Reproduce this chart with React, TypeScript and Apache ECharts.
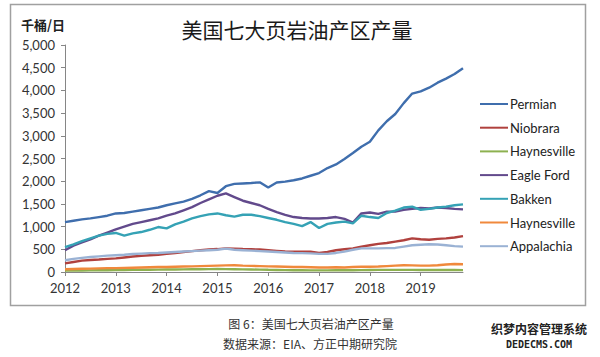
import React, { useEffect, useRef } from "react";
import * as echarts from "echarts";

const months: string[] = [];
for (let y = 2012; y <= 2019; y++) {
  for (const m of ["01", "03", "05", "07", "09", "11"]) months.push(`${y}-${m}`);
}

const yTicks = [0, 500, 1000, 1500, 2000, 2500, 3000, 3500, 4000, 4500, 5000];

const permian = [
  1100, 1130, 1160, 1180, 1210, 1240,
  1290, 1300, 1330, 1360, 1390, 1420,
  1470, 1510, 1550, 1610, 1690, 1780,
  1740, 1890, 1940, 1950, 1960, 1975,
  1860, 1970, 1990, 2020, 2060, 2120,
  2180, 2290, 2370, 2490, 2620, 2760,
  2870, 3120, 3320, 3480, 3720, 3930,
  3980, 4060, 4170, 4260, 4360, 4490,
];
const niobrara = [
  190, 220, 250, 265, 275, 290,
  300, 320, 340, 355, 370, 380,
  400, 420, 440, 460, 480, 495,
  505, 520, 515, 505, 500, 495,
  480, 465, 450, 445, 445, 445,
  420, 440, 480, 500, 520, 560,
  590, 620, 640, 670, 700, 740,
  720, 710, 730, 740, 760, 790,
];
const haynesvilleA = [
  30, 32, 34, 36, 38, 40,
  42, 44, 46, 48, 50, 52,
  54, 56, 58, 60, 62, 64,
  66, 64, 62, 58, 55, 52,
  48, 45, 42, 40, 38, 36,
  36, 36, 38, 38, 40, 42,
  44, 46, 46, 46, 46, 46,
  45, 45, 44, 44, 43, 42,
];
const eagleFord = [
  480, 580, 650, 720, 800, 870,
  940, 1000, 1060, 1100, 1140, 1180,
  1240, 1290, 1360, 1430, 1520, 1600,
  1680, 1730, 1650, 1570, 1520, 1470,
  1390, 1320, 1260, 1210, 1190, 1180,
  1180, 1190, 1210, 1170, 1090, 1290,
  1310, 1280, 1330, 1330, 1370, 1390,
  1410, 1400, 1420, 1410, 1390, 1380,
];
const bakken = [
  550, 610, 680, 740, 800, 840,
  860, 800, 850, 880, 930, 990,
  960, 1050, 1110, 1180, 1230, 1270,
  1290, 1250, 1220, 1260, 1260, 1230,
  1190, 1150, 1100, 1060, 1010, 1100,
  970, 1060, 1090, 1110, 1070, 1240,
  1210, 1190, 1300, 1350, 1420, 1440,
  1370, 1390, 1420, 1440, 1470, 1490,
];
const haynesvilleB = [
  60, 65, 70, 75, 80, 85,
  85, 90, 95, 100, 105, 110,
  110, 115, 120, 125, 130, 135,
  140, 145, 150, 140, 135, 130,
  125, 120, 115, 110, 110, 105,
  100, 100, 105, 100, 110, 115,
  115, 120, 130, 140, 150, 145,
  140, 140, 150, 165, 175, 170,
];
const appalachia = [
  260, 290, 310, 330, 345, 360,
  370, 380, 395, 405, 415, 420,
  430, 440, 450, 460, 470, 480,
  490, 515, 490, 480, 470, 460,
  450, 440, 430, 420, 415, 410,
  400, 400, 420, 450, 490, 520,
  520, 520, 525, 530, 560, 590,
  600, 610, 605, 590, 570, 560,
];

const seriesDefs = [
  { id: "Permian", label: "Permian", data: permian, color: "#3F6EAD" },
  { id: "Niobrara", label: "Niobrara", data: niobrara, color: "#B0413E" },
  { id: "Haynesville_1", label: "Haynesville", data: haynesvilleA, color: "#8DB150" },
  { id: "Eagle Ford", label: "Eagle Ford", data: eagleFord, color: "#624A8C" },
  { id: "Bakken", label: "Bakken", data: bakken, color: "#35A2B5" },
  { id: "Haynesville_2", label: "Haynesville", data: haynesvilleB, color: "#F0893C" },
  { id: "Appalachia", label: "Appalachia", data: appalachia, color: "#9AB2D4" },
];

const labelMap: Record<string, string> = {};
seriesDefs.forEach((s) => (labelMap[s.id] = s.label));

const FONT = "Lato, 'Noto Sans', sans-serif";
const CJK = "'Noto Sans CJK SC', sans-serif";

export default function App() {
  const ref = useRef<HTMLDivElement>(null);
  useEffect(() => {
    if (!ref.current) return;
    const chart = echarts.init(ref.current, undefined, { renderer: "svg" });
    chart.setOption({
      animation: false,
      backgroundColor: "#ffffff",
      grid: { left: 65, right: 137, top: 45, bottom: 85, containLabel: false },
      xAxis: {
        type: "category",
        data: months,
        boundaryGap: false,
        axisLine: { show: true, lineStyle: { color: "#868686", width: 1 } },
        axisTick: {
          show: true,
          length: 4,
          interval: (i: number, v: string) => v.endsWith("-01"),
          lineStyle: { color: "#868686" },
        },
        axisLabel: {
          interval: (i: number, v: string) => v.endsWith("-01"),
          formatter: (v: string) => v.slice(0, 4),
          color: "#333",
          fontSize: 13,
          fontFamily: FONT,
          margin: 9,
        },
        splitLine: { show: false },
      },
      yAxis: {
        type: "value",
        min: yTicks[0],
        max: yTicks[yTicks.length - 1],
        interval: 500,
        axisLine: { show: true, lineStyle: { color: "#868686", width: 1 } },
        axisTick: { show: true, length: 4, lineStyle: { color: "#868686" } },
        axisLabel: {
          color: "#333",
          fontSize: 13,
          fontFamily: FONT,
          margin: 10,
          formatter: (v: number) => v.toLocaleString("en-US"),
        },
        splitLine: { show: false },
      },
      legend: {
        orient: "vertical",
        left: 475,
        top: 92,
        itemWidth: 28,
        itemHeight: 14,
        itemGap: 9.7,
        icon: "path://M0,6 L28,6 L28,8 L0,8 Z",
        formatter: (name: string) => labelMap[name] ?? name,
        textStyle: { color: "#222", fontSize: 13, fontFamily: FONT, padding: [0, 0, 0, -3], lineHeight: 14 },
        data: seriesDefs.map((s) => s.id),
      },
      series: seriesDefs.map((s) => ({
        name: s.id,
        type: "line",
        data: s.data,
        symbol: "none",
        smooth: false,
        lineStyle: { color: s.color, width: 2.4 },
        itemStyle: { color: s.color },
      })),
      graphic: [
        {
          type: "rect",
          shape: { x: 10.5, y: 4.5, width: 575, height: 301 },
          style: { fill: "none", stroke: "#a0a0a0", lineWidth: 1.5 },
          silent: true,
        },
        {
          type: "text",
          x: 21,
          y: 18,
          style: { text: "千桶/日", fill: "#222", font: `bold 13px ${CJK}` },
        },
        {
          type: "text",
          x: 297,
          y: 29,
          style: {
            text: "美国七大页岩油产区产量",
            fill: "#1a1a1a",
            font: `21px ${CJK}`,
            align: "center",
            verticalAlign: "middle",
          },
        },
        {
          type: "text",
          x: 311,
          y: 323,
          style: {
            text: "图 6：美国七大页岩油产区产量",
            fill: "#333",
            font: `12px ${CJK}`,
            align: "center",
            verticalAlign: "middle",
          },
        },
        {
          type: "text",
          x: 310,
          y: 343,
          style: {
            text: "数据来源：EIA、方正中期研究院",
            fill: "#333",
            font: `12px ${CJK}`,
            align: "center",
            verticalAlign: "middle",
          },
        },
        {
          type: "text",
          x: 539,
          y: 328,
          style: {
            text: "织梦内容管理系统",
            fill: "#222",
            font: `bold 12px ${CJK}`,
            align: "center",
            verticalAlign: "middle",
            lineHeight: 12,
          },
        },
        {
          type: "text",
          x: 539,
          y: 344,
          style: {
            text: "DEDECMS.COM",
            fill: "#222",
            font: `bold 10px 'DejaVu Sans Mono', monospace`,
            align: "center",
            verticalAlign: "middle",
            lineHeight: 10,
          },
        },
      ],
    });
    return () => chart.dispose();
  }, []);
  return (
    <div
      ref={ref}
      style={{ position: "fixed", left: 0, top: 0, width: 600, height: 357, background: "#fff" }}
    />
  );
}
